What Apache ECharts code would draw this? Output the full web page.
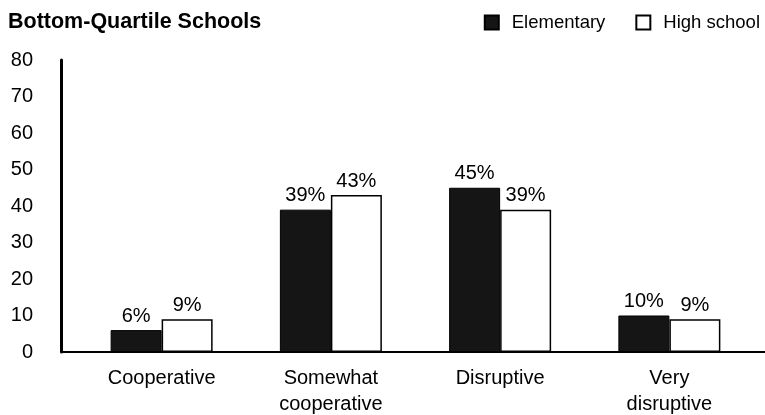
<!DOCTYPE html>
<html>
<head>
<meta charset="utf-8">
<script src="https://cdn.jsdelivr.net/npm/echarts@6/dist/echarts.min.js"></script>
<style>html,body{margin:0;padding:0;background:#fff;}#c{width:765px;height:415px;}</style>
</head>
<body>
<div id="c"></div>
<script>
const categories = ['Cooperative', 'Somewhat\ncooperative', 'Disruptive', 'Very\ndisruptive'];
const elementary = [6, 39, 45, 10];
const highSchool = [9, 43, 39, 9];
const yTicks = { min: 0, max: 80, interval: 10 };

const FONT = '"Liberation Sans", Arial, sans-serif';
const chart = echarts.init(document.getElementById('c'));
chart.setOption({
  animation: false,
  backgroundColor: '#fff',
  textStyle: { fontFamily: FONT, color: '#000' },
  title: {
    text: 'Bottom-Quartile Schools',
    left: 3, top: 6,
    textStyle: { fontFamily: FONT, fontSize: 21.5, fontWeight: 'bold', color: '#000' }
  },
  legend: {
    right: 0, top: 8,
    itemWidth: 14, itemHeight: 14, itemGap: 30,
    textStyle: { fontFamily: FONT, fontSize: 18.5, color: '#000', padding: [0, 0, 0, 8] },
    data: [
      { name: 'Elementary', icon: 'rect' },
      { name: 'High school', icon: 'rect' }
    ]
  },
  grid: [
    { left: 77, right: 11, top: 60, bottom: 63, outerBoundsMode: 'none', containLabel: false },
    { left: 62, right: 0, top: 60, bottom: 63, outerBoundsMode: 'none', containLabel: false }
  ],
  xAxis: [
    {
      type: 'category', gridIndex: 0, data: categories,
      axisLine: { show: false }, axisTick: { show: false },
      axisLabel: { fontFamily: FONT, fontSize: 20, color: '#000', margin: 13, lineHeight: 26 }
    },
    {
      type: 'value', gridIndex: 1, min: 0, max: 1,
      axisLine: { show: true, onZero: false, lineStyle: { color: '#000', width: 2 } },
      axisTick: { show: false }, axisLabel: { show: false }, splitLine: { show: false }
    }
  ],
  yAxis: [
    {
      type: 'value', gridIndex: 0, min: yTicks.min, max: yTicks.max, interval: yTicks.interval,
      offset: 16,
      axisLine: { show: true, lineStyle: { color: '#000', width: 3 } },
      axisTick: { show: false },
      splitLine: { show: false },
      axisLabel: { fontFamily: FONT, fontSize: 20, color: '#000', margin: 28 }
    },
    { type: 'value', gridIndex: 1, show: false, min: 0, max: 1 }
  ],
  series: [
    {
      name: 'Elementary', type: 'bar', xAxisIndex: 0, yAxisIndex: 0,
      data: elementary, barWidth: 51, barGap: '0%',
      itemStyle: { color: '#151515', borderColor: '#000', borderWidth: 1 },
      label: { show: true, position: 'top', distance: 4, formatter: '{c}%',
        fontFamily: FONT, fontSize: 20, color: '#000' }
    },
    {
      name: 'High school', type: 'bar', xAxisIndex: 0, yAxisIndex: 0,
      data: highSchool, barWidth: 51, barGap: '0%',
      itemStyle: { color: '#fff', borderColor: '#000', borderWidth: 1.5 },
      label: { show: true, position: 'top', distance: 4, formatter: '{c}%',
        fontFamily: FONT, fontSize: 20, color: '#000' }
    }
  ]
});
</script>
</body>
</html>
